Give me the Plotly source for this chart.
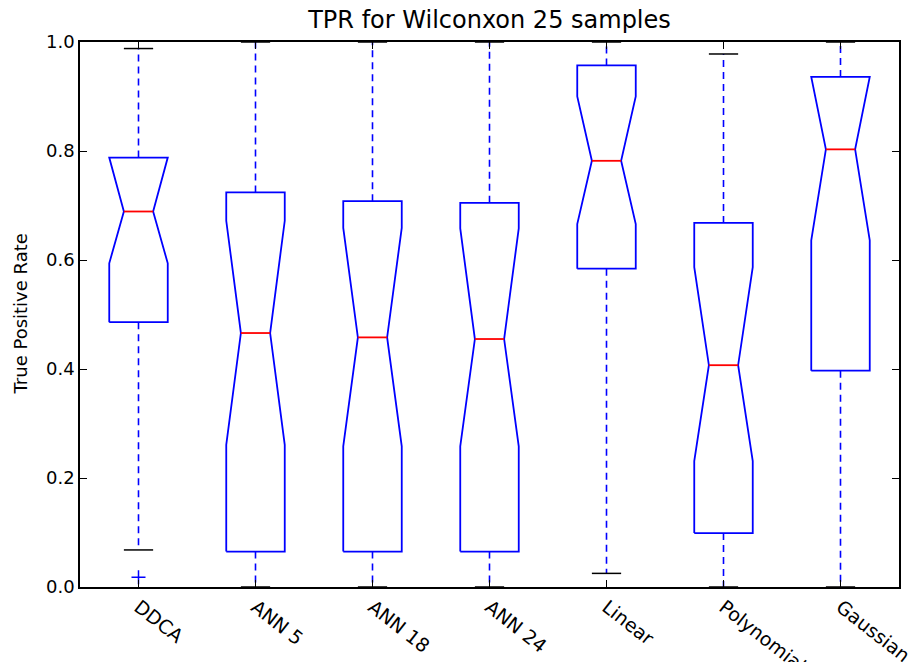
import plotly.graph_objects as go

# Summary statistics for each classifier (notched box plot)
categories = ["DDCA", "ANN 5", "ANN 18", "ANN 24", "Linear", "Polynomial", "Gaussian"]
q1 = [0.486, 0.065, 0.065, 0.065, 0.584, 0.099, 0.397]
median = [0.689, 0.466, 0.458, 0.455, 0.782, 0.407, 0.803]
q3 = [0.788, 0.724, 0.708, 0.705, 0.957, 0.668, 0.936]
notch_lo = [0.594, 0.261, 0.258, 0.258, 0.666, 0.231, 0.636]
notch_hi = [0.788, 0.672, 0.659, 0.658, 0.900, 0.587, 0.936]
whisker_lo = [0.068, 0.0, 0.0, 0.0, 0.025, 0.0, 0.0]
whisker_hi = [0.988, 1.0, 1.0, 1.0, 1.0, 0.978, 1.0]
outliers = {"DDCA": [0.018]}

y_ticks = [0.0, 0.2, 0.4, 0.6, 0.8, 1.0]

BLUE = "#0000ff"
RED = "#ff0000"

positions = list(range(1, len(categories) + 1))
half_w = 0.25      # half box width
notch_w = 0.125    # half width at the median notch
cap_w = 0.125      # half cap width

box_x, box_y = [], []
med_x, med_y = [], []
wh_x, wh_y = [], []
cap_x, cap_y = [], []
fl_x, fl_y = [], []

for i, name in enumerate(categories):
    p = positions[i]
    xs = [p - half_w, p + half_w, p + half_w, p + notch_w, p + half_w, p + half_w,
          p - half_w, p - half_w, p - notch_w, p - half_w, p - half_w]
    ys = [q1[i], q1[i], notch_lo[i], median[i], notch_hi[i], q3[i],
          q3[i], notch_hi[i], median[i], notch_lo[i], q1[i]]
    box_x += xs + [None]
    box_y += ys + [None]

    med_x += [p - notch_w, p + notch_w, None]
    med_y += [median[i], median[i], None]

    wh_x += [p, p, None, p, p, None]
    wh_y += [q3[i], whisker_hi[i], None, q1[i], whisker_lo[i], None]

    cap_x += [p - cap_w, p + cap_w, None, p - cap_w, p + cap_w, None]
    cap_y += [whisker_hi[i], whisker_hi[i], None, whisker_lo[i], whisker_lo[i], None]

    for v in outliers.get(name, []):
        fl_x.append(p)
        fl_y.append(v)

fig = go.Figure()
fig.add_trace(go.Scatter(x=wh_x, y=wh_y, mode="lines",
                         line=dict(color=BLUE, width=1.6, dash="7px,5px"),
                         hoverinfo="skip", showlegend=False))
fig.add_trace(go.Scatter(x=cap_x, y=cap_y, mode="lines",
                         line=dict(color="black", width=1.5),
                         hoverinfo="skip", showlegend=False))
fig.add_trace(go.Scatter(x=box_x, y=box_y, mode="lines",
                         line=dict(color=BLUE, width=1.8),
                         fill="none", hoverinfo="skip", showlegend=False))
fig.add_trace(go.Scatter(x=med_x, y=med_y, mode="lines",
                         line=dict(color=RED, width=1.8),
                         hoverinfo="skip", showlegend=False))
fig.add_trace(go.Scatter(x=fl_x, y=fl_y, mode="markers",
                         marker=dict(symbol="cross-thin", size=10,
                                     line=dict(color=BLUE, width=1.5)),
                         hoverinfo="skip", showlegend=False))

fig.update_layout(
    width=922, height=662,
    margin=dict(l=80, r=23, t=42, b=75),
    paper_bgcolor="white", plot_bgcolor="white",
    font=dict(family="DejaVu Sans", color="black"),
    title=dict(text="TPR for Wilconxon 25 samples", x=0.5, xref="paper",
               y=1 - 20 / 662, yref="container", xanchor="center", yanchor="middle",
               font=dict(size=24, color="black")),
    showlegend=False,
)

fig.update_xaxes(
    range=[0.5, 7.5], tickmode="array", tickvals=positions, ticktext=categories,
    tickangle=38, tickfont=dict(size=19),
    ticks="inside", ticklen=7, tickcolor="black", tickwidth=1,
    showline=True, linecolor="black", linewidth=1.5, mirror="allticks",
    showgrid=False, zeroline=False, automargin=False,
)
fig.update_yaxes(
    range=[0, 1], tickmode="array", tickvals=y_ticks,
    ticktext=[f"{v:.1f}" for v in y_ticks], tickfont=dict(size=18),
    ticks="inside", ticklen=7, tickcolor="black", tickwidth=1,
    showline=True, linecolor="black", linewidth=1.5, mirror="allticks",
    showgrid=False, zeroline=False, automargin=False,
)

# y-axis label, placed 20 px from the left edge of the figure
fig.add_annotation(text="True Positive Rate", textangle=-90,
                   x=(20 - 80) / (922 - 80 - 23), xref="paper", y=0.5, yref="paper",
                   showarrow=False, font=dict(size=18, color="black"),
                   xanchor="center", yanchor="middle")

fig.write_html("out.html")
